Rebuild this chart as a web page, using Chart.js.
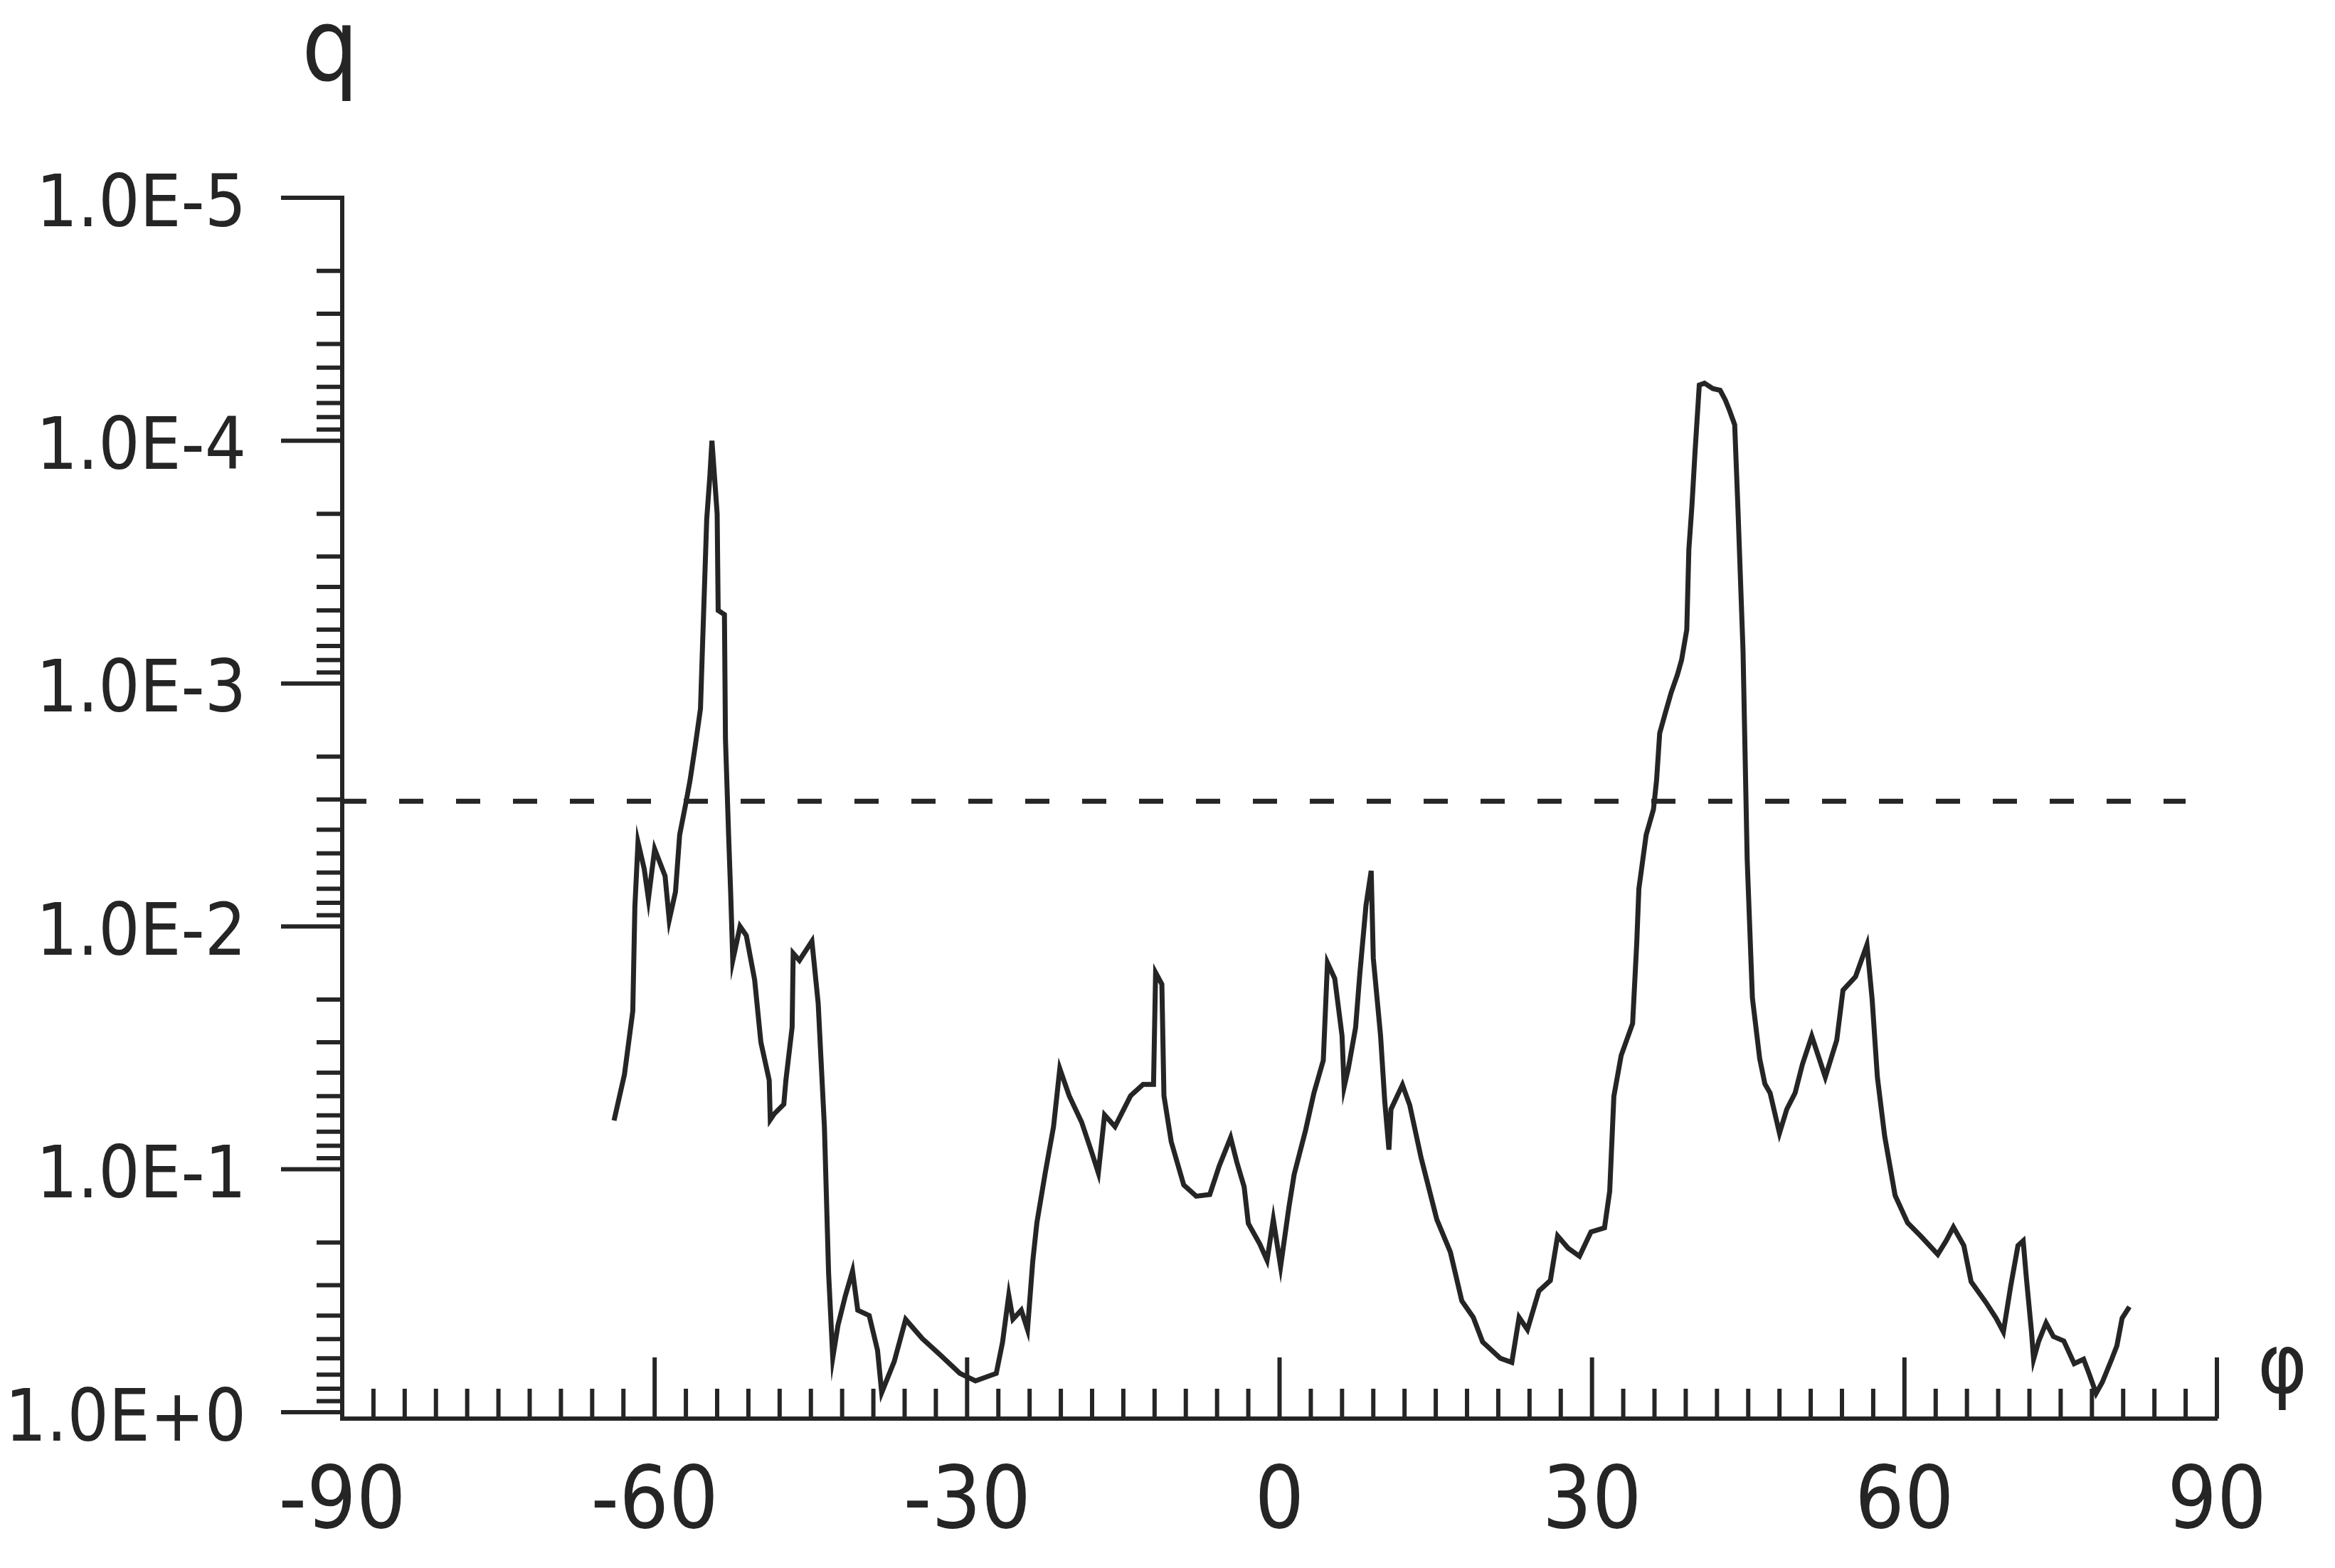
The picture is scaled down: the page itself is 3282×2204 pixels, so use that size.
<!DOCTYPE html>
<html><head><meta charset="utf-8">
<script src="https://cdn.jsdelivr.net/npm/chart.js@4.4.1/dist/chart.umd.min.js"></script>
<style>html,body{margin:0;padding:0;background:#fff;}canvas{display:block;}</style>
</head><body>
<canvas id="c" width="3282" height="2204" style="width:3282px;height:2204px"></canvas>
<script>
// phi (degrees) and q values
const phi = [-63.9,-62.9,-62.1,-61.9,-61.6,-61.0,-60.6,-60.0,-59.0,-58.6,-58.0,-57.6,-57.0,-56.6,-56.1,-55.6,-55.4,-55.0,-54.7,-54.5,
-54.0,-53.9,-53.3,-53.2,-52.9,-52.7,-52.5,-51.8,-51.2,-50.4,-49.8,-49.0,-48.9,-48.5,-47.6,-47.4,-46.8,-46.7,-46.1,-44.9,
-44.3,-43.7,-43.3,-42.9,-42.4,-41.7,-41.0,-40.5,-39.4,-38.6,-38.2,-37.0,-35.9,-34.3,-32.7,-30.7,-29.2,-27.2,-26.6,-26.0,
-25.6,-24.8,-24.2,-23.7,-23.3,-22.5,-21.7,-21.1,-20.2,-19.0,-18.0,-17.4,-16.8,-15.8,-14.3,-13.1,-12.1,-11.9,-11.3,-11.1,
-10.4,-9.2,-8.0,-6.7,-5.8,-4.7,-4.1,-3.4,-3.0,-1.9,-1.2,-0.6,0.1,0.9,1.4,2.5,3.3,4.2,4.6,5.3,
6.0,6.2,6.6,7.3,7.7,8.3,8.8,9.0,9.7,10.1,10.5,10.7,11.8,12.5,13.6,15.1,16.4,17.5,18.6,19.5,
21.2,22.3,23.0,23.8,24.9,26.0,26.7,27.7,28.8,29.9,31.2,31.7,32.1,32.8,33.9,34.3,34.5,35.2,35.9,36.2,
36.5,37.0,37.6,38.2,38.6,39.1,39.3,39.6,39.9,40.3,40.8,41.6,42.3,42.8,43.2,43.7,44.0,44.5,44.9,45.4,
46.1,46.6,47.1,48.0,48.7,49.5,50.2,51.1,52.4,53.5,54.1,55.3,56.4,56.9,57.4,58.1,59.1,60.3,61.6,63.2,
64.0,64.7,65.7,66.4,67.8,68.8,69.5,70.2,70.9,71.4,71.7,72.2,72.4,72.9,73.6,74.3,75.3,76.3,77.2,77.7,
78.4,79.0,79.9,80.4,80.9,81.6];
const q = [6.3e-2,4.07e-2,2.23e-2,8.3e-3,4.5e-3,5.8e-3,7.7e-3,4.8e-3,6.2e-3,9.4e-3,7.2e-3,4.2e-3,3.1e-3,2.5e-3,1.8e-3,1.27e-3,6.9e-4,2.1e-4,1.4e-4,1.0e-4,
2.0e-4,5.0e-4,5.2e-4,1.7e-3,4.2e-3,7.3e-3,1.38e-2,1.0e-2,1.09e-2,1.66e-2,3.0e-2,4.3e-2,6.25e-2,5.9e-2,5.4e-2,4.3e-2,2.6e-2,1.29e-2,1.38e-2,1.15e-2,
2.07e-2,6.7e-2,0.267,0.597,0.439,0.333,0.262,0.380,0.40,0.556,0.83,0.619,0.415,0.498,0.575,0.692,0.743,0.692,0.516,0.330,
0.414,0.380,0.457,0.240,0.166,0.1035,6.67e-2,3.85e-2,4.98e-2,6.4e-2,8.6e-2,0.1035,5.97e-2,6.67e-2,4.98e-2,4.47e-2,4.47e-2,1.55e-2,1.73e-2,4.98e-2,
7.7e-2,0.116,0.129,0.127,9.7e-2,7.4e-2,9.35e-2,0.118,0.167,0.203,0.237,0.161,0.251,0.143,0.105,6.9e-2,4.85e-2,3.56e-2,1.41e-2,1.64e-2,
2.82e-2,4.58e-2,3.85e-2,2.61e-2,1.58e-2,8.2e-3,5.9e-3,1.35e-2,2.82e-2,5.24e-2,8.3e-2,5.66e-2,4.49e-2,5.44e-2,9.0e-2,0.161,0.219,0.348,0.407,0.514,
0.60,0.624,0.407,0.457,0.317,0.287,0.188,0.211,0.228,0.181,0.174,0.123,5.0e-2,3.4e-2,2.51e-2,1.16e-2,7.0e-3,4.2e-3,3.3e-3,2.5e-3,
1.6e-3,1.34e-3,1.09e-3,9.2e-4,8.0e-4,6.0e-4,2.8e-4,1.84e-4,1.1e-4,5.9e-5,5.8e-5,6.1e-5,6.2e-5,6.8e-5,7.5e-5,8.6e-5,1.84e-4,7.3e-4,5.3e-3,1.97e-2,
3.5e-2,4.45e-2,4.85e-2,7.1e-2,5.66e-2,4.85e-2,3.7e-2,2.83e-2,4.17e-2,2.94e-2,1.83e-2,1.61e-2,1.19e-2,2.0e-2,4.17e-2,7.3e-2,0.128,0.166,0.189,0.224,
0.197,0.173,0.206,0.290,0.352,0.410,0.467,0.303,0.206,0.197,0.278,0.467,0.605,0.509,0.429,0.488,0.509,0.631,0.605,0.689,
0.836,0.752,0.605,0.532,0.410,0.368];

// dashed threshold line
const thresholdPhi = [-90, 87];
const thresholdQ = [3.05e-3, 3.05e-3];

// axis ticks
const xTickValues = [-90, -60, -30, 0, 30, 60, 90];
const xTickLabels = ['-90', '-60', '-30', '0', '30', '60', '90'];
const yTickValues = [1e-5, 1e-4, 1e-3, 1e-2, 1e-1, 1];
const yTickLabels = ['1.0E-5', '1.0E-4', '1.0E-3', '1.0E-2', '1.0E-1', '1.0E+0'];

const INK = '#252525';
const FONT = "'Liberation Sans Narrow', 'DejaVu Sans Condensed', 'Liberation Sans', sans-serif";

const xMinor = [];
for (let v = -87; v < 90; v += 3) if (v % 30 !== 0) xMinor.push(v);
const yMinor = [];
for (let d = 0; d < 5; d++) for (let m = 2; m <= 9; m++) yMinor.push(m * yTickValues[d]);

const axisDecor = {
  id: 'axisDecor',
  afterDraw(chart) {
    const { ctx, chartArea: ca, scales: { x, y } } = chart;
    ctx.save();
    ctx.strokeStyle = INK;
    ctx.lineWidth = 6;
    ctx.lineCap = 'butt';
    const seg = (x1, y1, x2, y2) => { ctx.beginPath(); ctx.moveTo(x1, y1); ctx.lineTo(x2, y2); ctx.stroke(); };
    yTickValues.forEach(v => { const p = y.getPixelForValue(v); seg(ca.left - 86, p, ca.left, p); });
    yMinor.forEach(v => { const p = y.getPixelForValue(v); seg(ca.left - 36, p, ca.left, p); });
    xTickValues.forEach(v => { const p = x.getPixelForValue(v); seg(p, ca.bottom, p, ca.bottom - 86); });
    xMinor.forEach(v => { const p = x.getPixelForValue(v); seg(p, ca.bottom, p, ca.bottom - 42); });
    ctx.fillStyle = INK;
    ctx.textAlign = 'center';
    ctx.textBaseline = 'alphabetic';
    ctx.font = '140px ' + FONT;
    ctx.fillText('q', ca.left - 17, 113);
    ctx.font = '118px ' + FONT;
    ctx.textBaseline = 'middle';
    ctx.fillText('φ', ca.right + 92, ca.bottom - 68);
    ctx.restore();
  }
};

new Chart(document.getElementById('c'), {
  type: 'line',
  data: {
    datasets: [
      { label: 'q', data: phi.map((p, i) => ({ x: p, y: q[i] })), borderColor: INK, borderWidth: 7,
        pointRadius: 0, tension: 0, fill: false, borderJoinStyle: 'miter' },
      { label: 'threshold', data: thresholdPhi.map((p, i) => ({ x: p, y: thresholdQ[i] })), borderColor: INK,
        borderWidth: 7, borderDash: [34, 46], pointRadius: 0, fill: false }
    ]
  },
  options: {
    responsive: false,
    devicePixelRatio: 1,
    animation: false,
    layout: { padding: { left: 0, top: 278, right: 166, bottom: 0 } },
    plugins: { legend: { display: false }, tooltip: { enabled: false }, title: { display: false } },
    scales: {
      x: {
        type: 'linear', position: 'bottom', min: -90, max: 90,
        afterBuildTicks: s => { s.ticks = xTickValues.map(v => ({ value: v })); },
        afterFit: s => { s.height = 210; },
        grid: { display: false, drawTicks: false },
        border: { display: true, color: INK, width: 6 },
        ticks: { color: INK, font: { family: FONT, size: 122, lineHeight: 1 }, padding: 60,
          maxRotation: 0, minRotation: 0, autoSkip: false,
          callback: (v, i) => xTickLabels[i] }
      },
      y: {
        type: 'logarithmic', position: 'left', reverse: true, min: 1e-5, max: 1.0625,
        afterBuildTicks: s => { s.ticks = yTickValues.map(v => ({ value: v })); },
        afterFit: s => { s.width = 481; },
        grid: { display: false, drawTicks: false },
        border: { display: true, color: INK, width: 6 },
        ticks: { color: INK, font: { family: FONT, size: 102, lineHeight: 1 }, padding: 135,
          labelOffset: 13, autoSkip: false,
          callback: (v, i) => yTickLabels[i] }
      }
    }
  },
  plugins: [axisDecor]
});
</script>
</body></html>
